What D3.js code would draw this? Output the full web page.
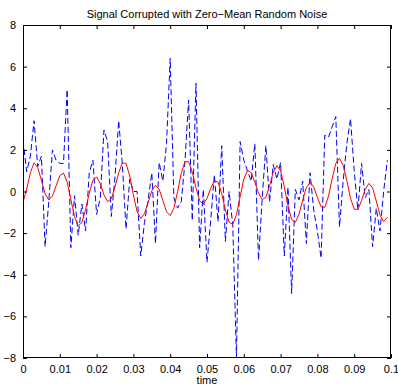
<!DOCTYPE html>
<html><head><meta charset="utf-8">
<script src="https://cdn.jsdelivr.net/npm/d3@7"></script>
<style>body{margin:0;background:#fff}svg{display:block}text{font-family:"Liberation Sans",Arial,Helvetica,sans-serif}</style>
</head><body><svg id="c" width="398" height="386"></svg>
<script>
const title = "Signal Corrupted with Zero\u2212Mean Random Noise";
const xLabel = "time";
const sampleStep = 0.001;
const noisy = [2.47,0.95,1.7,3.4,1.2,1.7,-2.65,-0.5,2.0,1.5,
1.35,1.35,4.9,-2.7,-0.2,-2.1,-0.6,-1.9,0.9,1.5,
-1.1,-0.3,2.95,2.4,-1.2,0.7,3.4,1.3,-1.8,0.6,
0.0,0.0,-3.1,-1.5,-0.4,0.9,-2.5,1.4,0.5,2.3,
6.4,-0.3,-0.8,-0.5,1.4,4.4,-1.4,5.2,-2.7,0.1,
-3.4,-1.4,0.8,-1.45,2.2,-2.4,0.0,-1.6,-8.0,2.4,
1.5,1.0,0.5,2.3,-3.3,-0.3,2.2,-0.5,1.3,0.6,
1.4,-3.1,0.2,-4.9,0.1,-0.4,0.5,-2.5,0.9,-0.9,
-1.9,-3.2,2.7,2.6,3.1,3.6,-1.7,0.5,2.3,3.5,
1.0,-0.9,1.35,-0.3,0.1,-2.65,-0.8,-1.9,0.0,1.5];
const clean = [-0.52,0.12,0.9,1.38,1.15,0.54,-0.11,-0.41,-0.22,0.28,
0.76,0.89,0.45,-0.38,-1.21,-1.65,-1.49,-0.88,-0.08,0.54,
0.70,0.38,-0.16,-0.49,-0.34,0.22,0.90,1.37,1.35,0.75,
-0.17,-0.97,-1.29,-1.07,-0.53,0.03,0.30,0.11,-0.43,-0.97,
-1.16,-0.80,-0.01,0.87,1.43,1.44,0.93,0.18,-0.44,-0.61,
-0.33,0.16,0.51,0.45,-0.11,-0.88,-1.47,-1.58,-1.11,-0.25,
0.59,1.02,0.90,0.45,-0.08,-0.39,-0.28,0.28,0.92,1.24,
0.99,0.24,-0.67,-1.35,-1.48,-1.09,-0.42,0.19,0.44,0.22,
-0.29,-0.73,-0.76,-0.23,0.61,1.35,1.60,1.26,0.52,-0.32,
-0.85,-0.86,-0.44,0.11,0.39,0.17,-0.46,-1.13,-1.45,-1.24];
const xTicks = [0,0.01,0.02,0.03,0.04,0.05,0.06,0.07,0.08,0.09,0.1];
const xTickLabels = ["0","0.01","0.02","0.03","0.04","0.05","0.06","0.07","0.08","0.09","0.1"];
const yTicks = [-8,-6,-4,-2,0,2,4,6,8];

const svg = d3.select("#c");
const L=23,R=391,T=25,B=358;
const x = d3.scaleLinear().domain([0,0.1]).range([L,R]);
const y = d3.scaleLinear().domain([-8,8]).range([B,T]);
const fmtY = d => d<0 ? "\u2212"+Math.abs(d) : String(d);
const tickLen = 4;

svg.append("rect").attr("x",L).attr("y",T).attr("width",R-L).attr("height",B-T).attr("fill","#fff");

svg.append("defs").append("clipPath").attr("id","clp").append("rect")
  .attr("x",L).attr("y",T).attr("width",R-L).attr("height",B-T);

const g = svg.append("g").attr("clip-path","url(#clp)");
const line = d3.line().x((d,i)=>x(i*sampleStep)).y(d=>y(d));
g.append("path").datum(noisy).attr("d",line).attr("fill","none")
  .attr("stroke","#0000ff").attr("stroke-width",1).attr("stroke-dasharray","6,3");
g.append("path").datum(clean).attr("d",line).attr("fill","none")
  .attr("stroke","#ff0000").attr("stroke-width",1);

const axB = d3.axisBottom(x).tickValues(xTicks).tickFormat((d,i)=>xTickLabels[i]).tickSizeInner(-tickLen).tickSizeOuter(0).tickPadding(7);
const axT = d3.axisTop(x).tickValues(xTicks).tickFormat("").tickSizeInner(-tickLen).tickSizeOuter(0);
const axL = d3.axisLeft(y).tickValues(yTicks).tickFormat(fmtY).tickSizeInner(-tickLen).tickSizeOuter(0).tickPadding(7);
const axR = d3.axisRight(y).tickValues(yTicks).tickFormat("").tickSizeInner(-tickLen).tickSizeOuter(0);

function style(sel){
  sel.select(".domain").remove();
  sel.selectAll("line").attr("stroke","#000").attr("stroke-width",1);
  sel.selectAll("text").attr("font-size",11).attr("fill","#000");
}
svg.append("g").attr("transform",`translate(0,${B})`).call(axB).call(style);
svg.append("g").attr("transform",`translate(0,${T})`).call(axT).call(style);
svg.append("g").attr("transform",`translate(${L},0)`).call(axL).call(style);
svg.append("g").attr("transform",`translate(${R},0)`).call(axR).call(style);

svg.append("rect").attr("x",L+0.5).attr("y",T+0.5).attr("width",R-L-1).attr("height",B-T-1)
  .attr("fill","none").attr("stroke","#000").attr("stroke-width",1);

svg.append("text").attr("x",(L+R)/2).attr("y",18).attr("text-anchor","middle")
  .attr("font-size",11).text(title);
svg.append("text").attr("x",(L+R)/2).attr("y",384).attr("text-anchor","middle")
  .attr("font-size",11).text(xLabel);
</script></body></html>
